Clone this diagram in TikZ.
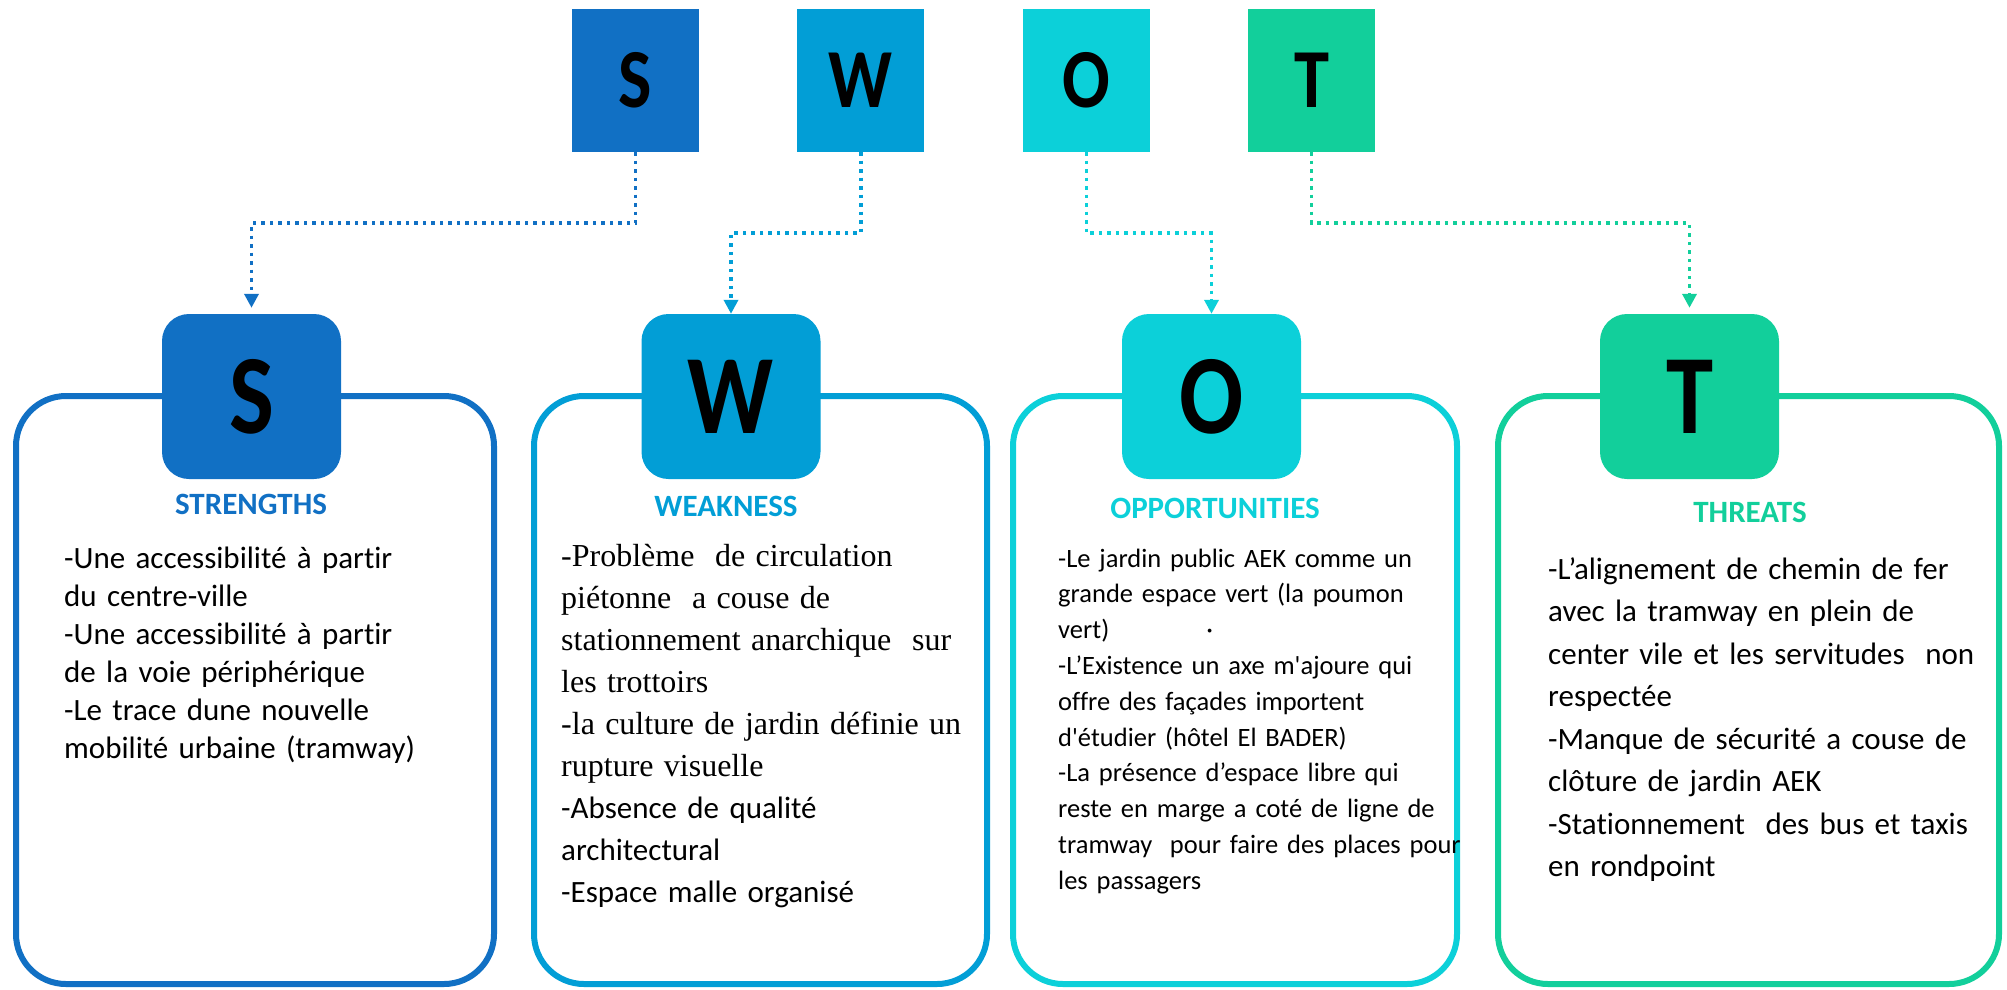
\documentclass[tikz,border=0pt]{standalone}
\usepackage{fontspec}
\setmainfont{Carlito}[Ligatures={TeX,NoCommon}]
\newfontfamily\timesfont{Liberation Serif}
\usepackage{graphicx}
\usetikzlibrary{arrows.meta,positioning}

\definecolor{swotS}{RGB}{17,112,196}
\definecolor{swotW}{RGB}{2,158,214}
\definecolor{swotO}{RGB}{12,208,217}
\definecolor{swotT}{RGB}{18,207,155}

\newcommand{\narrowletter}[1]{\scalebox{0.84}[1]{#1}}

\begin{document}
\begin{tikzpicture}[
    x=1pt, y=-1pt,
    letter/.style={rectangle, minimum width=127pt, minimum height=143pt, inner sep=0pt, font=\fontsize{84}{84}\selectfont\bfseries},
    tab/.style={rectangle, rounded corners=27pt, minimum width=179pt, minimum height=165pt, inner sep=0pt, font=\fontsize{113}{113}\selectfont\bfseries},
    card/.style={rectangle, draw, line width=6pt, rounded corners=50pt, minimum height=588pt, inner sep=0pt},
    heading/.style={anchor=base, inner sep=0pt, font=\fontsize{31}{36}\selectfont\bfseries},
    body/.style={anchor=base west, inner sep=0pt, text width=440pt, align=left},
    link/.style={line width=3.5pt, dash pattern=on 3.5pt off 5pt, -{Triangle[width=14pt,length=14pt]}}
]
\useasboundingbox (0,0) rectangle (2007,989);

% top row of letters
\node[letter, fill=swotS] (sqS) at (635.5,80.5) {\narrowletter{S}};
\node[letter, fill=swotW, right=98pt of sqS] (sqW) {\narrowletter{W}};
\node[letter, fill=swotO, right=98pt of sqW] (sqO) {\narrowletter{O}};
\node[letter, fill=swotT, right=98pt of sqO] (sqT) {\narrowletter{T}};

% cards
\node[card, draw=swotS, minimum width=478pt] (cardS) at (255,690) {};
\node[card, draw=swotW, minimum width=453pt] (cardW) at (760.5,690) {};
\node[card, draw=swotO, minimum width=444pt] (cardO) at (1235,690) {};
\node[card, draw=swotT, minimum width=501pt] (cardT) at (1748.5,690) {};

\node[tab, fill=swotS] (tabS) at (251.5,396.5) {\raisebox{-8pt}{\narrowletter{S}}};
\node[tab, fill=swotW] (tabW) at (731,396.5) {\raisebox{-8pt}{\narrowletter{W}}};
\node[tab, fill=swotO] (tabO) at (1211.5,396.5) {\raisebox{-8pt}{\narrowletter{O}}};
\node[tab, fill=swotT] (tabT) at (1689.5,396.5) {\raisebox{-8pt}{\narrowletter{T}}};

% links
\draw[link, swotS, shorten >=6pt] (sqS.south) -- ++(0,71) -| (tabS.north);
\draw[link, swotW] (sqW.south) -- ++(0,81) -| (tabW.north);
\draw[link, swotO] (sqO.south) -- ++(0,81) -| (tabO.north);
\draw[link, swotT, shorten >=6pt] (sqT.south) -- ++(0,71) -| (tabT.north);

% headings
\node[heading, swotS] (headS) at (251,514) {STRENGTHS};
\node[heading, swotW] (headW) at (726,516) {WEAKNESS};
\node[heading, swotO] (headO) at (1215,518) {OPPORTUNITIES};
\node[heading, swotT] (headT) at (1750,522) {THREATS};

% texts
\node[body, font=\fontsize{31}{38}\selectfont] (textS) at (64,568) {-Une accessibilité à partir\\
du centre-ville\\
-Une accessibilité à partir\\
de la voie périphérique\\
-Le trace dune nouvelle\\
mobilité urbaine (tramway)};

\node[body, font=\fontsize{31}{42}\selectfont] (textW) at (561,566) {{\timesfont\fontsize{32}{42}\selectfont -Problème\ \ de circulation}\\
{\timesfont\fontsize{32}{42}\selectfont piétonne\ \ a couse de}\\
{\timesfont\fontsize{32}{42}\selectfont stationnement anarchique\ \ sur}\\
{\timesfont\fontsize{32}{42}\selectfont les trottoirs}\\
{\timesfont\fontsize{32}{42}\selectfont -la culture de jardin définie un}\\
{\timesfont\fontsize{32}{42}\selectfont rupture visuelle}\\
-Absence de qualité\\
architectural\\
-Espace malle organisé};

\node[body, font=\fontsize{26.5}{35.8}\selectfont] (textO) at (1058,567) {-Le jardin public AEK comme un\\
grande espace vert (la poumon\\
vert)\hspace{97pt}·\\
-L’Existence un axe m\textquotesingle ajoure qui\\
offre des façades importent\\
d\textquotesingle étudier (hôtel El BADER)\\
-La présence d’espace libre qui\\
reste en marge a coté de ligne de\\
tramway\ \ pour faire des places pour\\
les passagers};

\node[body, font=\fontsize{31}{42.5}\selectfont] (textT) at (1548,579) {-L’alignement de chemin de fer\\
avec la tramway en plein de\\
center vile et les servitudes\ \ non\\
respectée\\
-Manque de sécurité a couse de\\
clôture de jardin AEK\\
-Stationnement\ \ des bus et taxis\\
en rondpoint};
\end{tikzpicture}
\end{document}
